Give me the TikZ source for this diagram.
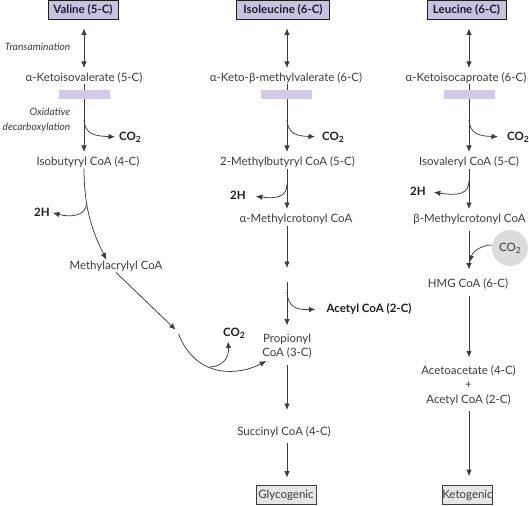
\documentclass[tikz,border=0pt]{standalone}
\usepackage{fontspec}
\setmainfont{Lato}
\usetikzlibrary{arrows.meta}
\definecolor{ink}{HTML}{3C3C3C}
\definecolor{inkd}{HTML}{1E1E1E}
\definecolor{lav}{HTML}{C9C1E2}
\definecolor{barc}{HTML}{D2CAE8}
\definecolor{gbox}{HTML}{E6E6E6}
\definecolor{circ}{HTML}{DCDCDC}
\newcommand{\cotwo}{CO\raisebox{-0.4ex}{\fontsize{8.5}{8.5}\selectfont 2}}
\begin{document}
\begin{tikzpicture}[x=1pt,y=-1pt,
 txt/.style={text=ink,font=\fontsize{11.5}{14}\selectfont,inner sep=0pt,text height=8pt,text depth=2.6pt},
 mtxt/.style={text=ink,font=\fontsize{11.5}{14.5}\selectfont,inner sep=0pt,align=center},
 bld/.style={text=inkd,font=\fontsize{11.5}{13}\selectfont\bfseries,inner sep=0pt},
 itl/.style={text=ink,font=\fontsize{10.2}{15}\selectfont\itshape,inner sep=0pt,align=right},
 topbox/.style={draw=inkd,line width=0.8pt,fill=lav,text=inkd,font=\fontsize{11.5}{13}\selectfont\bfseries,minimum height=19pt,inner xsep=0pt},
 endbox/.style={draw=ink,line width=0.7pt,fill=gbox,text=ink,font=\fontsize{11.5}{13}\selectfont,minimum height=19pt,inner xsep=0pt},
 bar/.style={fill=barc,minimum width=51pt,minimum height=9pt,inner sep=0pt},
 ln/.style={draw=ink,line width=0.75pt},
 arr/.style={ln,-{Latex[length=6.5pt,width=5.5pt]}},
 darr/.style={ln,{Latex[length=6.5pt,width=5.5pt]}-{Latex[length=6.5pt,width=5.5pt]}},
]
\useasboundingbox (0,0) rectangle (529,505);
\coordinate (c1) at (84,0);
\coordinate (c2) at (287,0);
\coordinate (c3) at (469,0);

% ---------- Valine column ----------
\node[topbox,minimum width=70pt] (val) at (83,10) {Valine (5-C)};
\node[txt] (kiv) at (84,79) {α-Ketoisovalerate (5-C)};
\node[txt] (ibc) at (88,163) {Isobutyryl CoA (4-C)};
\node[txt] (mac) at (116,267) {Methylacrylyl CoA};
\node[itl,anchor=east] (trans) at (70.5,47) {Transamination};
\node[itl,anchor=east] (oxd) at (70.5,120.5) {Oxidative\\decarboxylation};
\node[bld] (vco) at (130,137) {\cotwo};
\node[bld] (v2h) at (42,212) {2H};
\node[bld] (vco2) at (234,333) {\cotwo};
\coordinate (v1) at (84,120);
\coordinate (v2) at (86.5,204);
\coordinate (vg) at (177.5,331.5);
\coordinate (v3) at (210,367);

\draw[darr,shorten <=8.5pt,shorten >=5.5pt] (val.south -| c1) -- (kiv.north -| c1);
\draw[arr,shorten <=-0.5pt,shorten >=5.5pt] (kiv.south -| c1) -- (ibc.north -| c1);
\draw[arr,shorten >=4pt] (v1) .. controls (85,134) and (94,136) .. (vco.west);
\draw[arr,shorten >=2pt] (ibc.south -| c1) .. controls (84,215) and (96,238) .. ([xshift=-9pt]mac.north);
\draw[arr,shorten >=3pt] (v2) .. controls (86,215) and (72,218) .. (v2h.east);
\draw[arr,shorten >=2.5pt] (mac.south) -- (vg);

% ---------- Isoleucine column ----------
\node[topbox,minimum width=93pt] (ile) at (283,10) {Isoleucine (6-C)};
\node[txt] (kmv) at (286,79) {α-Keto-β-methylvalerate (6-C)};
\node[txt] (mbc) at (287.5,163) {2-Methylbutyryl CoA (5-C)};
\node[txt] (amc) at (296,220) {α-Methylcrotonyl CoA};
\node[mtxt] (prop) at (287,346) {Propionyl\\CoA (3-C)};
\node[txt] (suc) at (284,433) {Succinyl CoA (4-C)};
\node[endbox,minimum width=60pt] (gly) at (286,495) {Glycogenic};
\node[bld] (ico) at (333,137) {\cotwo};
\node[bld] (i2h) at (238,195) {2H};
\node[bld] (acc) at (369,309) {Acetyl CoA (2-C)};
\coordinate (i1) at (287,120);
\coordinate (i2) at (287,184);
\coordinate (mid) at (287,275);
\coordinate (i3) at (287,292);

\draw[arr,shorten <=3pt,shorten >=1pt] (vg) .. controls (197,380) and (240,375) .. ([xshift=5pt,yshift=-2pt]prop.south west);
\draw[arr,shorten >=3pt] (v3) .. controls (224,366) and (229,357) .. ([xshift=-6pt]vco2.south);

\draw[darr,shorten <=8.5pt,shorten >=5.5pt] (ile.south -| c2) -- (kmv.north -| c2);
\draw[arr,shorten <=-0.5pt,shorten >=5.5pt] (kmv.south -| c2) -- (mbc.north -| c2);
\draw[arr,shorten >=7pt] (i1) .. controls (288,134) and (297,136) .. (ico.west);
\draw[arr,shorten >=5.5pt] (mbc.south -| c2) -- (amc.north -| c2);
\draw[arr,shorten >=10pt] (i2) .. controls (287,197) and (276,199) .. (i2h.east);
\draw[arr,shorten >=7pt] (amc.south -| c2) -- (mid);
\draw[arr,shorten <=7pt,shorten >=8pt] (mid) -- (prop.north -| c2);
\draw[arr,shorten >=11pt] (i3) .. controls (288,307) and (296,310) .. (acc.west);
\draw[arr,shorten <=6.5pt,shorten >=17.5pt] (prop.south -| c2) -- (suc.north -| c2);
\draw[arr,shorten <=4.5pt,shorten >=7.5pt] (suc.south -| c2) -- (gly.north -| c2);

% ---------- Leucine column ----------
\node[topbox,minimum width=79pt] (leu) at (466.5,10) {Leucine (6-C)};
\node[txt] (kic) at (466,79) {α-Ketoisocaproate (6-C)};
\node[txt] (ivc) at (469,163) {Isovaleryl CoA (5-C)};
\node[txt] (bmc) at (469.5,220) {β-Methylcrotonyl CoA};
\node[circle,fill=circ,minimum size=36pt,inner sep=0pt,text=ink,font=\fontsize{11.5}{13}\selectfont] (lco) at (510,248) {\cotwo};
\node[txt] (hmg) at (468,285) {HMG CoA (6-C)};
\node[mtxt] (aca) at (468.5,385.5) {Acetoacetate (4-C)\\+\\Acetyl CoA (2-C)};
\node[endbox,minimum width=49pt] (ket) at (467.5,495) {Ketogenic};
\node[bld] (lco2) at (518,137) {\cotwo};
\node[bld] (l2h) at (418,191) {2H};
\coordinate (l1) at (469,120);
\coordinate (l2) at (469,181);
\coordinate (l4) at (469.5,262);

\draw[darr,shorten <=8.5pt,shorten >=5.5pt] (leu.south -| c3) -- (kic.north -| c3);
\draw[arr,shorten <=-0.5pt,shorten >=5.5pt] (kic.south -| c3) -- (ivc.north -| c3);
\draw[arr,shorten >=9pt] (l1) .. controls (470,134) and (479,136) .. (lco2.west);
\draw[arr,shorten >=5.5pt] (ivc.south -| c3) -- (bmc.north -| c3);
\draw[arr,shorten >=8pt] (l2) .. controls (469,194) and (458,196) .. (l2h.east);
\draw[arr,shorten <=5pt,shorten >=10pt] (bmc.south -| c3) -- (hmg.north -| c3);
\draw[arr] ([yshift=3pt]lco.west) .. controls (482,245) and (473,251) .. (l4);
\draw[arr,shorten <=5pt,shorten >=8pt] (hmg.south -| c3) -- (aca.north -| c3);
\draw[arr,shorten <=5pt,shorten >=9pt] (aca.south -| c3) -- (ket.north -| c3);

% ---------- bars (over the lines) ----------
\node[bar] (b1) at (84.5,94.7) {};
\node[bar] (b2) at (286.5,94.7) {};
\node[bar] (b3) at (469.5,94.7) {};
\end{tikzpicture}
\end{document}
